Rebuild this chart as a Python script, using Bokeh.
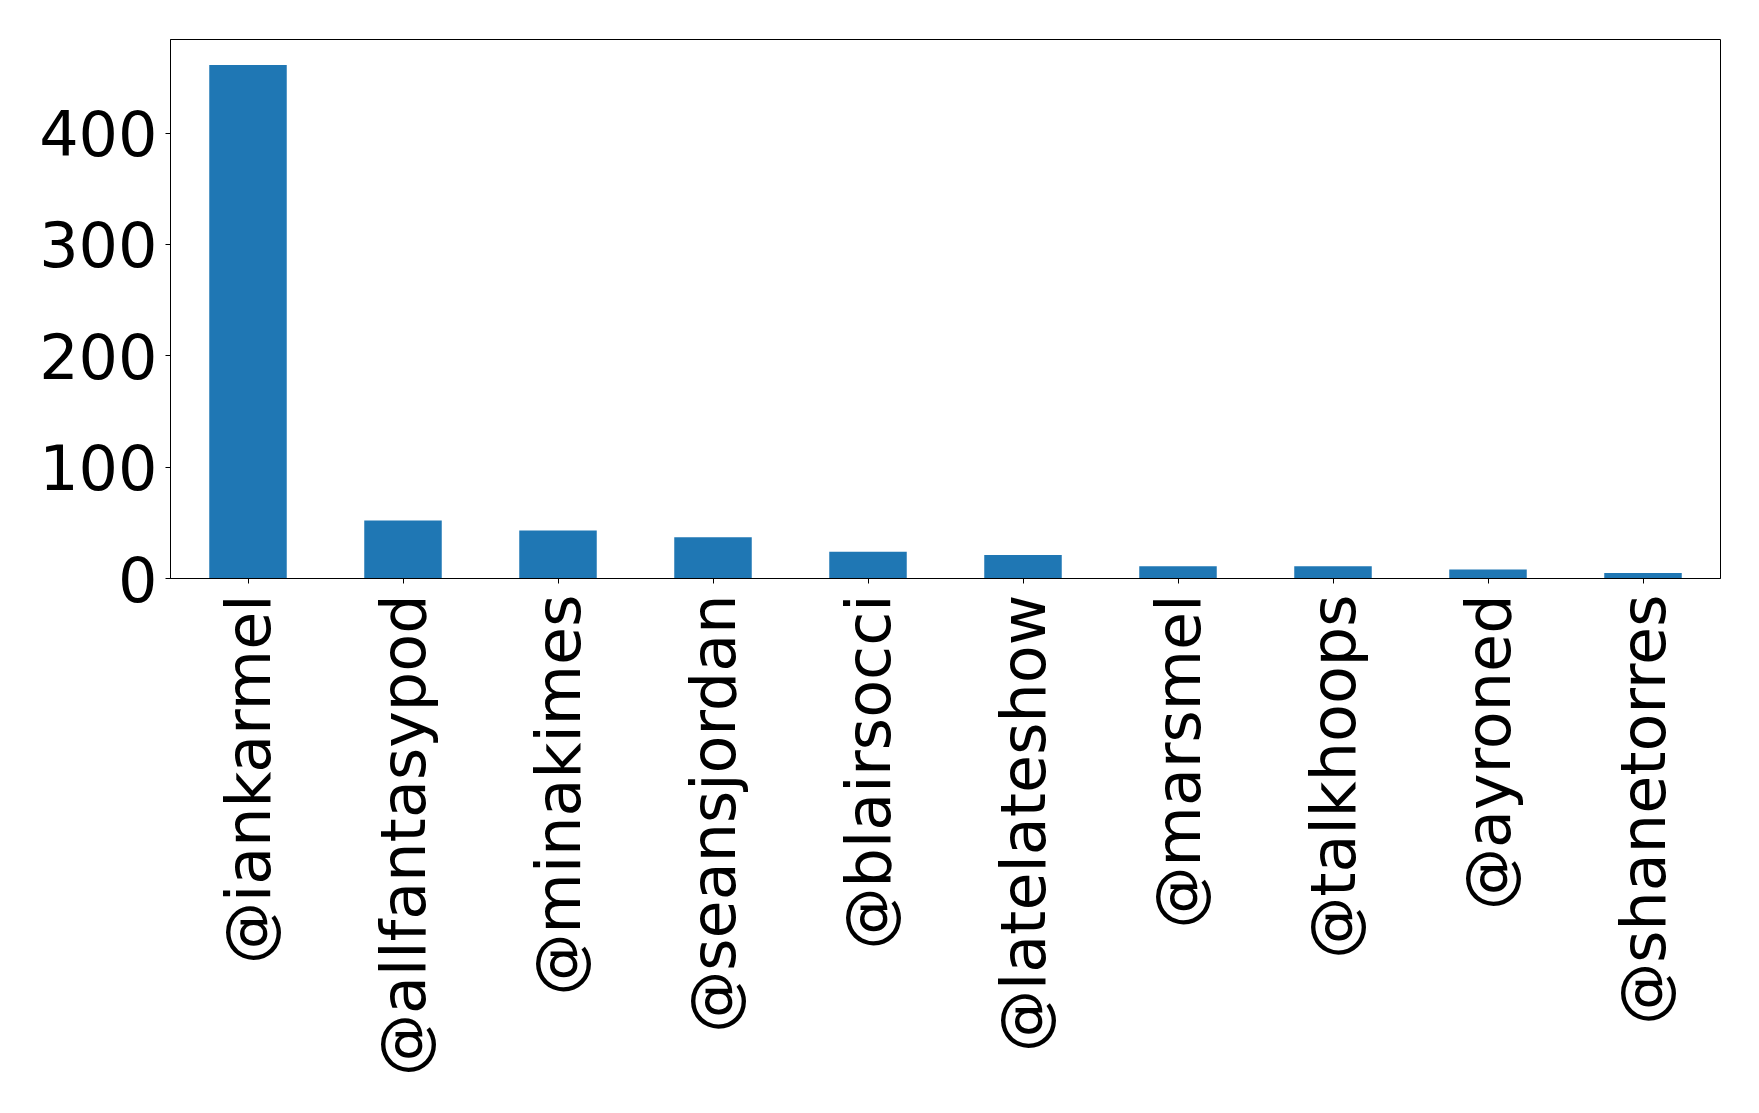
from bokeh.plotting import figure
from bokeh.models import FactorRange, Range1d, FixedTicker, ColumnDataSource
from bokeh.embed import file_html
from bokeh.resources import INLINE
import math

handles = ["@iankarmel", "@allfantasypod", "@minakimes", "@seansjordan", "@blairsocci",
           "@latelateshow", "@marsmel", "@talkhoops", "@ayroned", "@shanetorres"]
counts = [461, 52, 43, 37, 24, 21, 11, 11, 8, 5]
y_ticks = [0, 100, 200, 300, 400]

src = ColumnDataSource(dict(handle=handles, count=counts))

p = figure(
    x_range=FactorRange(factors=handles, range_padding=0),
    y_range=Range1d(0, 484),
    width=1751, height=1105,
    min_border_left=170, min_border_right=31,
    min_border_top=39, min_border_bottom=527,
    output_backend="svg", toolbar_location=None,
)

p.vbar(x="handle", top="count", width=0.5, source=src,
       fill_color="#1f77b4", line_color=None)

p.xgrid.visible = False
p.ygrid.visible = False
p.outline_line_color = "black"
p.outline_line_width = 1
p.background_fill_color = "white"
p.border_fill_color = "white"

for ax in (p.xaxis[0], p.yaxis[0]):
    ax.axis_line_color = "black"
    ax.axis_line_width = 1
    ax.major_tick_line_color = "black"
    ax.major_tick_out = 5
    ax.major_tick_in = 0
    ax.minor_tick_line_color = None
    ax.major_label_text_font = "DejaVu Sans"
    ax.major_label_text_font_size = "62px"
    ax.major_label_text_color = "black"

p.xaxis.major_label_standoff = 11
p.yaxis.major_label_standoff = 8
p.yaxis.ticker = FixedTicker(ticks=y_ticks)
p.xaxis.major_label_orientation = math.pi / 2

open("out.html", "w").write(file_html(p, INLINE))
